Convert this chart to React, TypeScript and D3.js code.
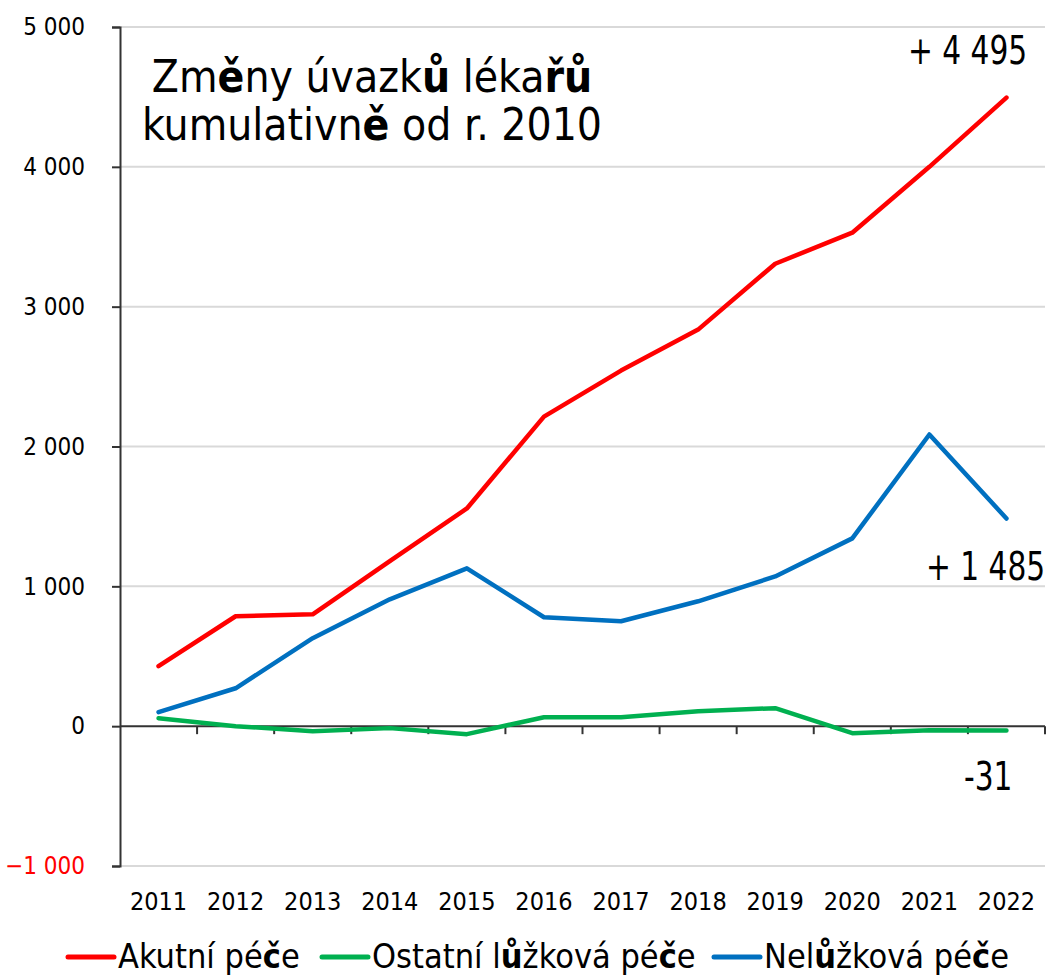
import React, { useEffect, useRef } from "react"
import * as d3 from "d3"

const years = ["2011", "2012", "2013", "2014", "2015", "2016", "2017", "2018", "2019", "2020", "2021", "2022"]
const akutni = [429, 786, 800, 1180, 1557, 2214, 2543, 2836, 3307, 3529, 4000, 4495]
const ostatni = [57, 0, -36, -14, -57, 64, 64, 107, 129, -50, -29, -31]
const neluzkova = [100, 271, 629, 907, 1129, 779, 750, 893, 1071, 1343, 2086, 1485]
const yTicks = [-1000, 0, 1000, 2000, 3000, 4000, 5000]

const seriesNames = ["Akutní péče", "Ostatní lůžková péče", "Nelůžková péče"]
const seriesColors = ["#ff0000", "#00b050", "#0070c0"]
const endLabels = ["+ 4 495", "-31", "+ 1 485"]

const font = "'DejaVu Sans Condensed', 'DejaVu Sans', sans-serif"

const fmt = (v: number) => d3.format(",")(v).replace(/,/g, " ")

export default function App() {
	const ref = useRef<SVGSVGElement>(null)

	useEffect(() => {
		const w = 1054
		const h = 975
		const svg = d3.select(ref.current)
		svg.selectAll("*").remove()
		svg.attr("width", w).attr("height", h)

		const x = d3.scaleBand().domain(years).range([120, 1045])
		const y = d3.scaleLinear().domain([-1000, 5000]).range([866, 27])
		const cx = (d: string) => (x(d) as number) + x.bandwidth() / 2

		// gridlines
		svg.append("g")
			.selectAll("line")
			.data(yTicks.filter(d => d !== 0))
			.enter()
			.append("line")
			.attr("x1", 120)
			.attr("x2", 1045)
			.attr("y1", d => y(d))
			.attr("y2", d => y(d))
			.attr("stroke", "#d9d9d9")
			.attr("stroke-width", 2)

		// y axis
		const yAxis = d3.axisLeft(y).tickValues(yTicks).tickSize(8).tickFormat(d => fmt(d as number))
		const gy = svg.append("g").attr("transform", "translate(120,0)").call(yAxis)
		gy.select(".domain").attr("stroke", "#333").attr("stroke-width", 2)
		gy.selectAll(".tick line").attr("stroke", "#333").attr("stroke-width", 2)
		gy.selectAll(".tick text")
			.attr("x", -35)
			.attr("font-size", 24)
			.attr("font-family", font)
			.attr("fill", (d: any) => (d < 0 ? "#ff0000" : "#000"))

		// x axis at zero
		const zeroY = y(0)
		svg.append("line")
			.attr("x1", 120)
			.attr("x2", 1045)
			.attr("y1", zeroY)
			.attr("y2", zeroY)
			.attr("stroke", "#333")
			.attr("stroke-width", 2)
		svg.append("g")
			.selectAll("line")
			.data(years)
			.enter()
			.append("line")
			.attr("x1", d => (x(d) as number) + x.bandwidth())
			.attr("x2", d => (x(d) as number) + x.bandwidth())
			.attr("y1", zeroY)
			.attr("y2", zeroY + 8)
			.attr("stroke", "#333")
			.attr("stroke-width", 2)

		svg.append("g")
			.selectAll("text")
			.data(years)
			.enter()
			.append("text")
			.attr("x", d => cx(d))
			.attr("y", 910)
			.attr("text-anchor", "middle")
			.attr("font-size", 25)
			.attr("font-family", font)
			.text(d => d)

		// lines
		const allSeries = [akutni, ostatni, neluzkova]
		const line = d3
			.line<number>()
			.x((d, i) => cx(years[i]))
			.y(d => y(d))
		svg.append("g")
			.selectAll("path")
			.data(allSeries)
			.enter()
			.append("path")
			.attr("d", d => line(d))
			.attr("fill", "none")
			.attr("stroke", (d, i) => seriesColors[i])
			.attr("stroke-width", 4.5)
			.attr("stroke-linejoin", "round")
			.attr("stroke-linecap", "round")

		// end labels, stretched vertically to look like a narrow face
		const labelPos = [
			{ x: 908, y: 64 },
			{ x: 964, y: 790 },
			{ x: 926, y: 580 },
		]
		svg.append("g")
			.selectAll("text")
			.data(endLabels)
			.enter()
			.append("text")
			.attr("transform", (d, i) => `translate(${labelPos[i].x},${labelPos[i].y}) scale(1,1.2)`)
			.attr("font-size", 33)
			.attr("font-family", font)
			.text(d => d)

		// title
		const title = svg.append("text").attr("font-size", 44).attr("font-family", font).attr("text-anchor", "middle")
		const t1 = title.append("tspan").attr("x", 372).attr("y", 92)
		t1.append("tspan").text("Zm")
		t1.append("tspan").attr("font-weight", "bold").text("ě")
		t1.append("tspan").text("ny úvazk")
		t1.append("tspan").attr("font-weight", "bold").text("ů")
		t1.append("tspan").text(" léka")
		t1.append("tspan").attr("font-weight", "bold").text("řů")
		const t2 = title.append("tspan").attr("x", 372).attr("y", 140)
		t2.append("tspan").text("kumulativn")
		t2.append("tspan").attr("font-weight", "bold").text("ě")
		t2.append("tspan").text(" od r. 2010")

		// legend
		const legX = [68, 322, 714]
		const leg = svg.append("g")
			.selectAll("g")
			.data(seriesNames)
			.enter()
			.append("g")
			.attr("transform", (d, i) => `translate(${legX[i]},968)`)
		leg.append("line")
			.attr("x1", 0)
			.attr("x2", 46)
			.attr("y1", -11)
			.attr("y2", -11)
			.attr("stroke", (d, i) => seriesColors[i])
			.attr("stroke-width", 5)
			.attr("stroke-linecap", "round")
		const lt = leg.append("text").attr("x", 50).attr("font-size", 34).attr("font-family", font)
		lt.each(function (d) {
			const el = d3.select(this)
			// bold the háček/kroužek letters as in the original
			d.split(/(č|ů)/).forEach(p => {
				if (!p) return
				el.append("tspan").attr("font-weight", p === "č" || p === "ů" ? "bold" : "normal").text(p)
			})
		})
	}, [])

	return (
		<div style={{ position: "absolute", left: 0, top: 0 }}>
			<svg ref={ref} style={{ display: "block", background: "#fff" }}></svg>
		</div>
	)
}
